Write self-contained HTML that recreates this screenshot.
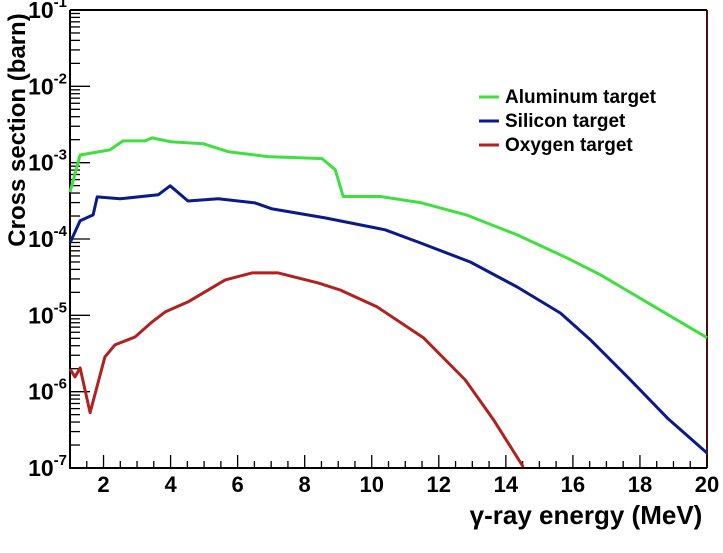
<!DOCTYPE html>
<html><head><meta charset="utf-8"><style>
body{margin:0;background:#fff;}
svg{display:block;font-family:"Liberation Sans",sans-serif;font-weight:bold;}
</style></head><body>
<svg id="chart" width="723" height="553" viewBox="0 0 723 553" xmlns="http://www.w3.org/2000/svg">
<g id="axes"></g>
<g id="series"></g>
<text x="0" y="0" transform="translate(25,130) rotate(-90)" text-anchor="middle" font-size="24">Cross section (barn)</text>
<text x="586" y="524" text-anchor="middle" font-size="26">γ-ray energy (MeV)</text>
<g>
<line x1="479" y1="97" x2="499" y2="97" stroke="#3ee03e" stroke-width="3"/>
<text x="505" y="103" font-size="19">Aluminum target</text>
<line x1="479" y1="121" x2="499" y2="121" stroke="#0a1a8a" stroke-width="3"/>
<text x="505" y="127" font-size="19">Silicon target</text>
<line x1="479" y1="145" x2="499" y2="145" stroke="#b22020" stroke-width="3"/>
<text x="505" y="151" font-size="19">Oxygen target</text>
</g>
</svg>
<script>
const xTicks=[2,4,6,8,10,12,14,16,18,20];
const yDecades=[-7,-6,-5,-4,-3,-2,-1];
const alE=[1.0,1.3,2.19,2.58,3.24,3.45,3.99,4.97,5.72,6.91,8.52,8.91,9.15,10.25,11.45,12.82,14.34,15.84,16.82,20];
const alV=[4.1e-4,1.26e-3,1.47e-3,1.93e-3,1.93e-3,2.11e-3,1.88e-3,1.77e-3,1.39e-3,1.2e-3,1.13e-3,8.1e-4,3.6e-4,3.6e-4,3.0e-4,2.07e-4,1.13e-4,5.6e-5,3.4e-5,5.1e-6];
const siE=[1.0,1.3,1.69,1.81,2.49,3.63,3.99,4.52,5.42,6.52,7.03,8.61,10.4,11.45,12.94,14.34,15.63,16.52,17.63,18.82,20];
const siV=[8.9e-5,1.73e-4,2.07e-4,3.56e-4,3.36e-4,3.79e-4,4.97e-4,3.15e-4,3.36e-4,2.97e-4,2.48e-4,1.89e-4,1.32e-4,8.9e-5,5.0e-5,2.35e-5,1.07e-5,4.8e-6,1.56e-6,4.5e-7,1.57e-7];
const oxE=[1.0,1.15,1.3,1.6,2.04,2.34,2.94,3.45,3.84,4.52,5.63,6.43,7.21,8.4,9.06,10.16,11.54,12.79,13.63,14.52];
const oxV=[1.98e-6,1.56e-6,2.05e-6,5.3e-7,2.85e-6,4.1e-6,5.2e-6,8.2e-6,1.11e-5,1.5e-5,2.91e-5,3.6e-5,3.6e-5,2.66e-5,2.15e-5,1.29e-5,5.1e-6,1.42e-6,4.3e-7,1.03e-7];

const L=70,R=707,T=10,B=468,xMin=1,xMax=20,yMin=-7,yMax=-1;
const NS="http://www.w3.org/2000/svg";
function xs(e){return L+(e-xMin)/(xMax-xMin)*(R-L);}
function ys(v){const l=Math.log10(Math.max(v,1e-12));return B-(l-yMin)/(yMax-yMin)*(B-T);}
function mk(tag,attrs,parent){const el=document.createElementNS(NS,tag);for(const k in attrs)el.setAttribute(k,attrs[k]);parent.appendChild(el);return el;}
const axes=document.getElementById('axes');
const frame=mk('path',{d:`M${L},${T}H${R}M${L},${T}V${B}H${R}`,stroke:'#000','stroke-width':2,fill:'none'},axes);


const rax=mk('line',{x1:R,y1:T,x2:R,y2:B,stroke:'#4a1010','stroke-width':2},axes);


for(let e=1.5;e<=20;e+=0.5){const x=xs(e);const major=Math.abs(e-Math.round(e/2)*2)<1e-6;
const t=mk('line',{x1:x,y1:B,x2:x,y2:B-(major?13:7),stroke:'#000','stroke-width':1.3},axes);

}
xTicks.forEach(e=>{const t=mk('text',{x:xs(e),y:492,'text-anchor':'middle','font-size':22},axes);t.textContent=e;

});
yDecades.forEach((d,i)=>{
const y=ys(Math.pow(10,d));
const t=mk('line',{x1:L,y1:y,x2:L+20,y2:y,stroke:'#000','stroke-width':1.3},axes);


if(i<yDecades.length-1){for(let m=2;m<=9;m++){const ym=ys(m*Math.pow(10,d));
const mt=mk('line',{x1:L,y1:ym,x2:L+10,y2:ym,stroke:'#000','stroke-width':1.3},axes);

}}
const lb=mk('text',{x:67,y:y+8,'text-anchor':'end','font-size':23},axes);


const a=mk('tspan',{},lb);a.textContent='10';
const b=mk('tspan',{dy:-11,'font-size':15},lb);b.textContent=String(d);
});
const series=document.getElementById('series');
function line(E,V,color,name){
const d=E.map((e,i)=>(i?'L':'M')+xs(e).toFixed(1)+','+ys(V[i]).toFixed(1)).join('');
const p=mk('path',{d:d,stroke:color,'stroke-width':3,fill:'none','stroke-linejoin':'round'},series);

}
line(alE,alV,'#3ee03e','aluminum-line');
line(siE,siV,'#0a1a8a','silicon-line');
line(oxE,oxV,'#b22020','oxygen-line');
</script>
</body></html>
